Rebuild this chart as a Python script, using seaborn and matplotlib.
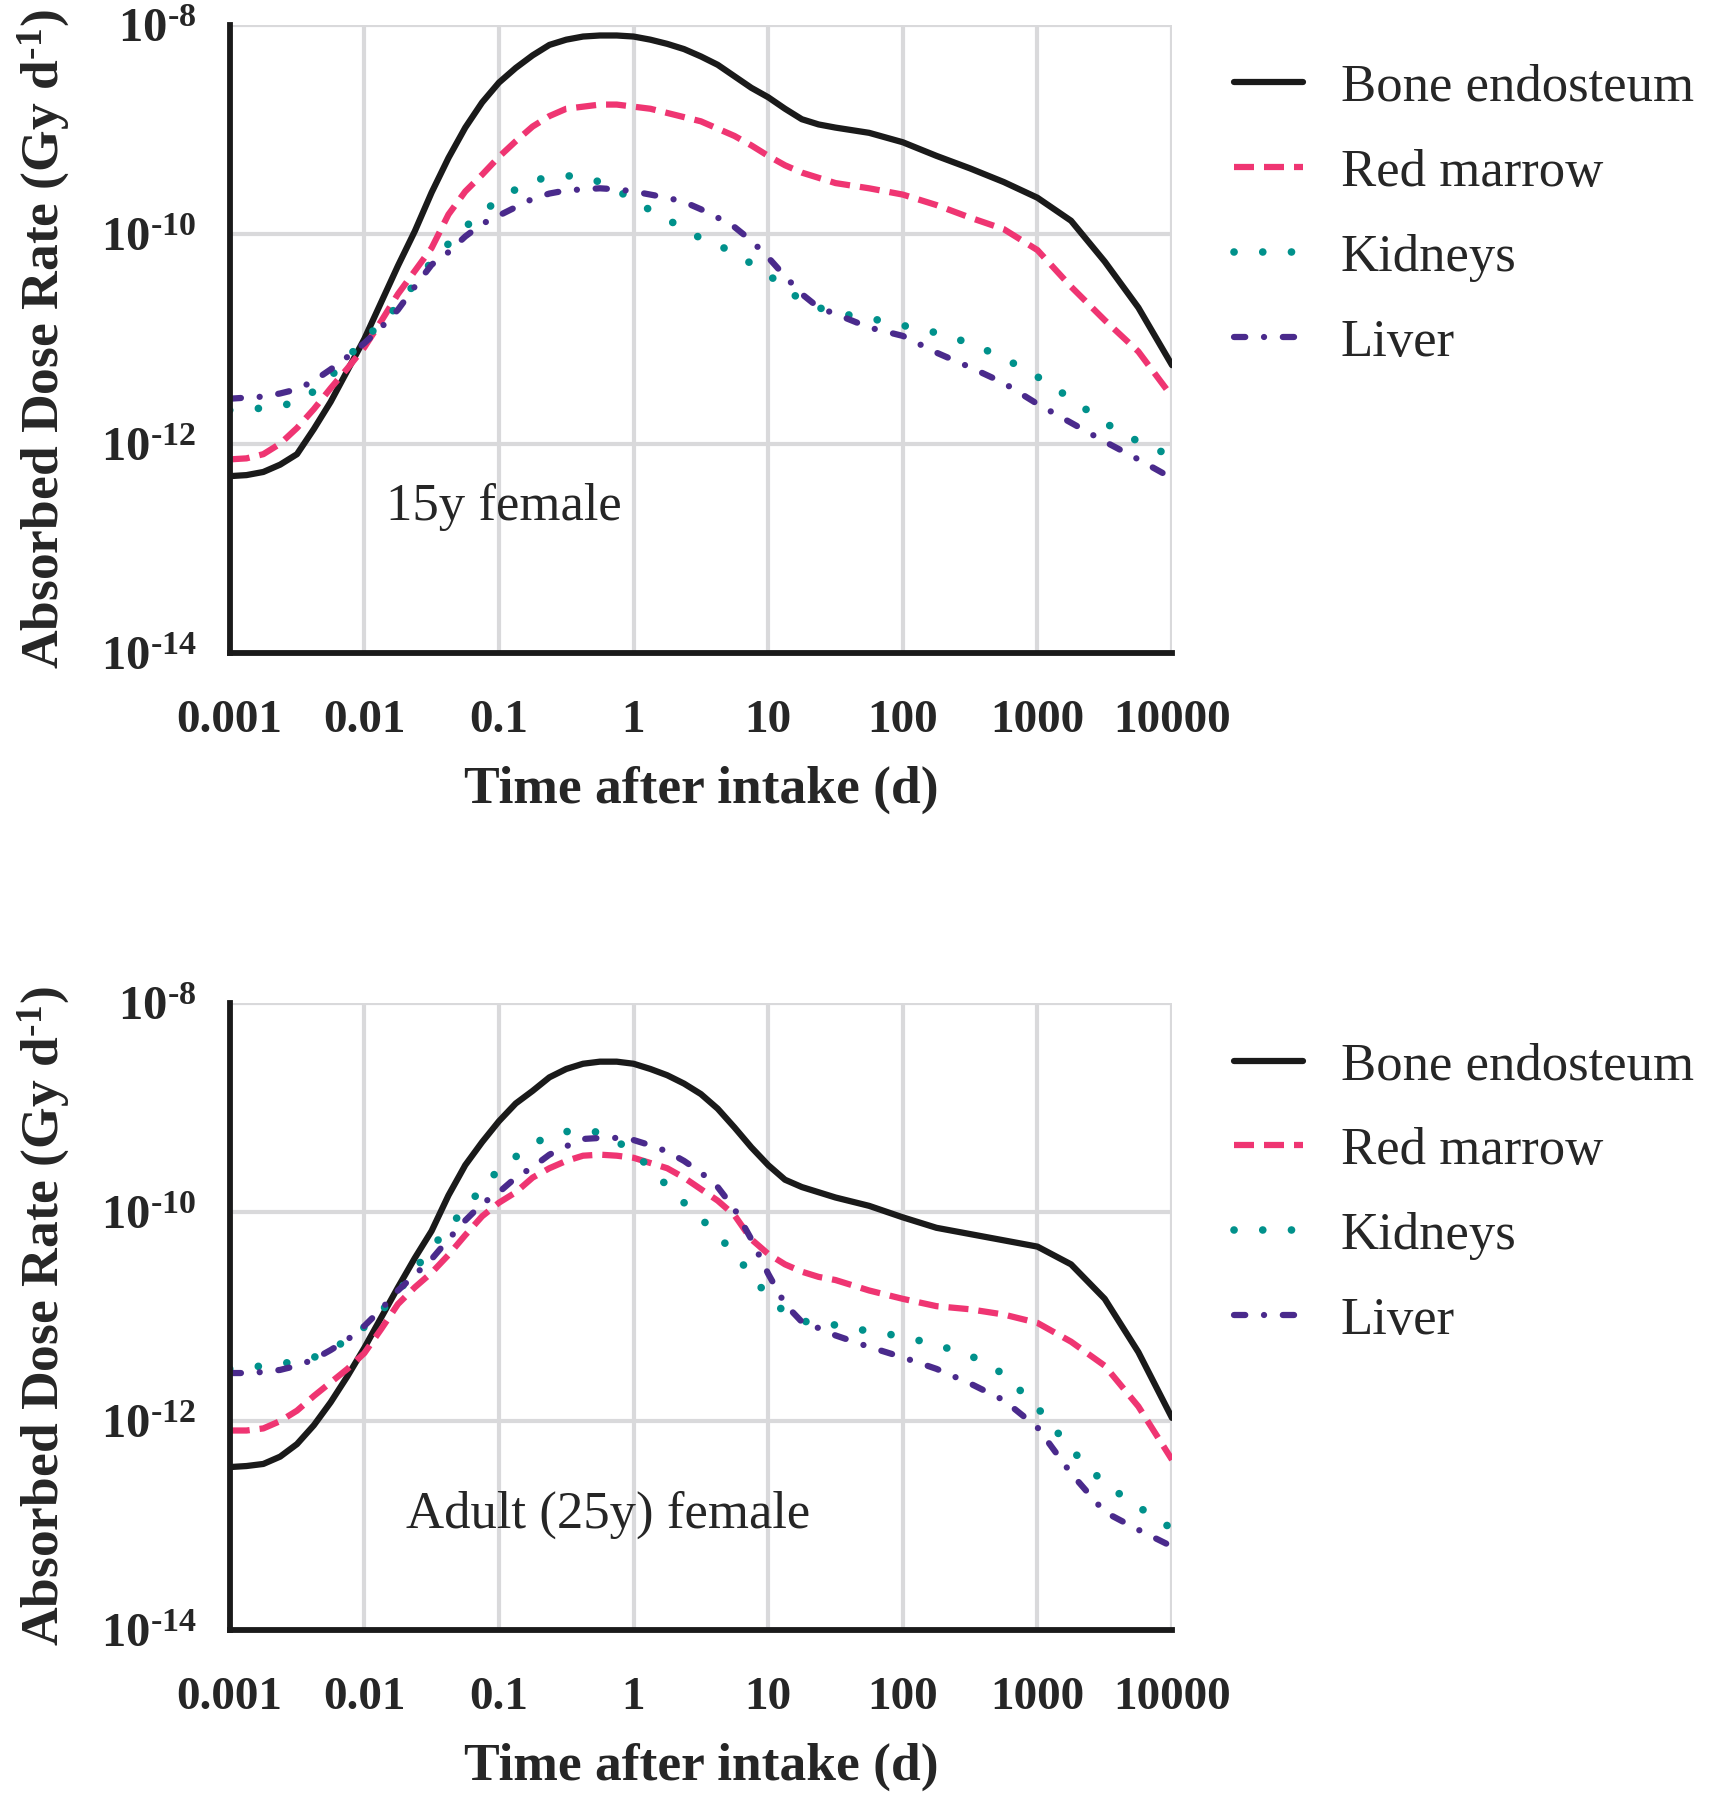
import numpy as np
import pandas as pd
import matplotlib
matplotlib.use('Agg')
import matplotlib.pyplot as plt
import seaborn as sns

# time after intake, as log10(days); eighth-decade steps up to 30 d
log_days = [-3.0, -2.875, -2.75, -2.625, -2.5, -2.375, -2.25, -2.125, -2.0, -1.875,
            -1.75, -1.625,
            -1.5, -1.375, -1.25, -1.125, -1.0, -0.875, -0.75, -0.625, -0.5, -0.375,
            -0.25, -0.125, 0.0, 0.125, 0.25, 0.375, 0.5, 0.625, 0.75, 0.875,
            1.0, 1.125, 1.25, 1.375, 1.5,
            1.75, 2.0, 2.25, 2.5, 2.75, 3.0, 3.25, 3.5, 3.75, 4.0]

# dose rates as log10(Gy/d), 15y female
bone_15y = [-12.31, -12.30, -12.27, -12.2, -12.1, -11.86, -11.6, -11.3, -11.0, -10.65,
            -10.3, -9.97,
            -9.60, -9.27, -8.98, -8.74, -8.55, -8.41, -8.29, -8.19, -8.14, -8.11,
            -8.10, -8.10, -8.11, -8.14, -8.18, -8.23, -8.30, -8.38, -8.49, -8.60,
            -8.69, -8.80, -8.90, -8.95, -8.98,
            -9.03, -9.12, -9.25, -9.37, -9.5, -9.65, -9.87, -10.26, -10.7, -11.25]
marrow_15y = [-12.15, -12.14, -12.1, -12.0, -11.85, -11.67, -11.47, -11.28, -11.08, -10.83,
              -10.57, -10.35,
              -10.13, -9.81, -9.59, -9.43, -9.26, -9.11, -8.97, -8.87, -8.80, -8.78,
              -8.76, -8.76, -8.78, -8.80, -8.84, -8.88, -8.92, -8.99, -9.06, -9.15,
              -9.25, -9.34, -9.41, -9.46, -9.51,
              -9.56, -9.62, -9.72, -9.84, -9.95, -10.15, -10.5, -10.82, -11.12, -11.55]
kidneys_15y = [-11.68, -11.67, -11.66, -11.64, -11.6, -11.5, -11.36, -11.18, -11.0, -10.85,
               -10.68, -10.47,
               -10.26, -10.09, -9.93, -9.79, -9.67, -9.57, -9.49, -9.45, -9.44, -9.45,
               -9.50, -9.58, -9.67, -9.77, -9.86, -9.94, -10.04, -10.10, -10.18, -10.28,
               -10.38, -10.52, -10.63, -10.70, -10.75,
               -10.8, -10.87, -10.94, -11.04, -11.18, -11.36, -11.57, -11.8, -11.98, -12.12]
liver_15y = [-11.57, -11.56, -11.55, -11.52, -11.48, -11.4, -11.29, -11.17, -11.04, -10.89,
             -10.72, -10.5,
             -10.29, -10.17, -10.02, -9.90, -9.82, -9.74, -9.66, -9.61, -9.58, -9.57,
             -9.56, -9.57, -9.59, -9.62, -9.65, -9.69, -9.76, -9.84, -9.93, -10.06,
             -10.22, -10.40, -10.57, -10.70, -10.76,
             -10.89, -10.97, -11.13, -11.27, -11.42, -11.62, -11.8, -11.98, -12.15, -12.33]

# dose rates as log10(Gy/d), adult (25y) female
bone_25y = [-12.44, -12.43, -12.41, -12.34, -12.22, -12.04, -11.82, -11.57, -11.3, -11.01,
            -10.72, -10.44,
            -10.18, -9.84, -9.55, -9.33, -9.13, -8.96, -8.84, -8.71, -8.63, -8.58,
            -8.56, -8.56, -8.58, -8.63, -8.69, -8.77, -8.87, -9.01, -9.19, -9.38,
            -9.55, -9.69, -9.76, -9.81, -9.86,
            -9.94, -10.05, -10.15, -10.21, -10.27, -10.33, -10.5, -10.83, -11.34, -11.97]
marrow_25y = [-12.09, -12.09, -12.07, -12.0, -11.9, -11.76, -11.63, -11.5, -11.35, -11.12,
              -10.88, -10.72,
              -10.58, -10.41, -10.22, -10.04, -9.91, -9.81, -9.67, -9.58, -9.51, -9.46,
              -9.45, -9.46, -9.48, -9.53, -9.58, -9.67, -9.78, -9.89, -10.03, -10.26,
              -10.40, -10.50, -10.57, -10.62, -10.65,
              -10.75, -10.83, -10.9, -10.93, -10.98, -11.06, -11.24, -11.47, -11.86, -12.37]
kidneys_25y = [-11.5, -11.49, -11.47, -11.45, -11.43, -11.39, -11.32, -11.22, -11.1, -10.95,
               -10.77, -10.55,
               -10.34, -10.15, -9.96, -9.77, -9.59, -9.47, -9.35, -9.27, -9.23, -9.21,
               -9.24, -9.32, -9.43, -9.58, -9.75, -9.91, -10.06, -10.22, -10.40, -10.60,
               -10.81, -10.96, -11.04, -11.07, -11.08,
               -11.14, -11.19, -11.27, -11.37, -11.55, -11.87, -12.27, -12.6, -12.82, -13.03]
liver_25y = [-11.54, -11.54, -11.53, -11.51, -11.47, -11.41, -11.32, -11.22, -11.09, -10.93,
             -10.75, -10.6,
             -10.45, -10.26, -10.08, -9.92, -9.81, -9.67, -9.57, -9.45, -9.37, -9.30,
             -9.29, -9.29, -9.31, -9.36, -9.42, -9.51, -9.62, -9.76, -9.97, -10.26,
             -10.59, -10.88, -11.05, -11.11, -11.18,
             -11.29, -11.39, -11.5, -11.64, -11.8, -12.06, -12.5, -12.87, -13.04, -13.2]

organs = ['Bone endosteum', 'Red marrow', 'Kidneys', 'Liver']
panels = [('15y female', [bone_15y, marrow_15y, kidneys_15y, liver_15y]),
          ('Adult (25y) female', [bone_25y, marrow_25y, kidneys_25y, liver_25y])]

x_ticks = [0.001, 0.01, 0.1, 1, 10, 100, 1000, 10000]
x_ticklabels = ['0.001', '0.01', '0.1', '1', '10', '100', '1000', '10000']
y_exps = [-14, -12, -10, -8]

colors = ['#1a1a1a', '#ef3572', '#00918b', '#4a2a8c']
styles = [dict(linestyle='-', linewidth=4.5),
          dict(linestyle=(0, (3.2, 1.6)), linewidth=4.5, dash_capstyle='butt'),
          dict(linestyle=(0, (0.01, 3.75)), linewidth=5.5, dash_capstyle='round'),
          dict(linestyle=(0, (1.8, 3.0, 0.01, 3.0)), linewidth=4.5, dash_capstyle='round')]

sns.set_theme(style='white')
plt.rcParams['font.family'] = ['Liberation Serif', 'DejaVu Serif']
plt.rcParams['mathtext.fontset'] = 'custom'
plt.rcParams['mathtext.rm'] = 'Liberation Serif:bold'
plt.rcParams['mathtext.it'] = 'Liberation Serif:bold'
plt.rcParams['mathtext.bf'] = 'Liberation Serif:bold'

fig = plt.figure(figsize=(17.09, 18.0), dpi=100)
ax_boxes = [[0.1344, 0.6372, 0.5514, 0.3489],
            [0.1344, 0.0944, 0.5514, 0.3483]]
notes_xy = [(10 ** -0.96, 10 ** -12.6), (10 ** -0.19, 10 ** -12.9)]

t = 10 ** np.array(log_days)
for (title, series), box, note_xy in zip(panels, ax_boxes, notes_xy):
    ax = fig.add_axes(box)
    for name, vals, c, st in zip(organs, series, colors, styles):
        df = pd.DataFrame({'time': t, 'rate': 10 ** np.array(vals)})
        sns.lineplot(data=df, x='time', y='rate', ax=ax, color=c, label=name, **st)

    ax.set_xscale('log')
    ax.set_yscale('log')
    ax.set_xlim(1e-3, 1e4)
    ax.set_ylim(1e-14, 1e-8)
    ax.set_xticks(x_ticks)
    ax.set_xticklabels(x_ticklabels, fontsize=34, fontweight='bold')
    ax.set_yticks([10.0 ** e for e in y_exps])
    ax.set_yticklabels([r'$10^{\text{-%d}}$' % -e for e in y_exps], fontsize=35)
    ax.minorticks_off()
    ax.grid(True, which='major', color='#d9d9db', lw=3.0)
    ax.set_axisbelow(True)
    for side in ['top', 'right']:
        ax.spines[side].set_visible(False)
    for side in ['left', 'bottom']:
        ax.spines[side].set_linewidth(4.2)
        ax.spines[side].set_color('#1a1a1a')
    ax.tick_params(axis='both', direction='out', length=18, width=3.6, color='#1a1a1a')
    ax.tick_params(axis='x', pad=16)
    ax.tick_params(axis='y', pad=6)

    ax.set_xlabel('Time after intake (d)', fontsize=38.5, fontweight='bold', va='center')
    ax.xaxis.set_label_coords(0.5, -0.218)
    ax.set_ylabel(r'Absorbed Dose Rate (Gy d$^{\text{-1}}$)', fontsize=38.5,
                  fontweight='bold', va='center')
    ax.yaxis.set_label_coords(-0.197, 0.5)

    ax.text(note_xy[0], note_xy[1], title, fontsize=38, ha='center', va='center')

    ax.legend(loc='upper left', bbox_to_anchor=(1.066, 0.938), frameon=False,
              fontsize=38, handlelength=1.3, handletextpad=0.72,
              labelspacing=0.70, borderpad=0, borderaxespad=0)

fig.savefig('out.png', dpi=100, facecolor='white')
